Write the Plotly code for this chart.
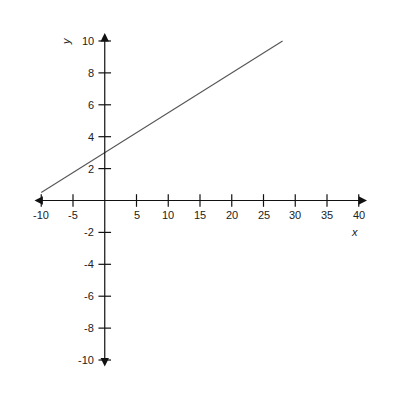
import plotly.graph_objects as go

# line y = 0.25x + 3
line_x = [-10, 28]
line_y = [0.5, 10]

x_ticks = [-10, -5, 5, 10, 15, 20, 25, 30, 35, 40]
y_ticks = [-10, -8, -6, -4, -2, 2, 4, 6, 8, 10]

x_min, x_max = -11.3, 41.3
y_min, y_max = -10.5, 10.5

font = dict(family="Liberation Sans, Arial, sans-serif", size=11, color="#222")

fig = go.Figure()

# the plotted line
fig.add_trace(go.Scatter(
    x=line_x, y=line_y, mode="lines",
    line=dict(color="#555", width=1.1),
    hoverinfo="skip"
))

# tick marks crossing the axes
fig.add_trace(go.Scatter(
    x=x_ticks, y=[0] * len(x_ticks), mode="markers",
    marker=dict(symbol="line-ns", size=9, line=dict(color="#111", width=1.2)),
    hoverinfo="skip"
))
fig.add_trace(go.Scatter(
    x=[0] * len(y_ticks), y=y_ticks, mode="markers",
    marker=dict(symbol="line-ew", size=9, line=dict(color="#111", width=1.2)),
    hoverinfo="skip"
))

# tick labels
for t in x_ticks:
    fig.add_annotation(x=t, y=0, text=str(t), showarrow=False, font=font,
                       xref="x", yref="y", yshift=-14)
for t in y_ticks:
    fig.add_annotation(x=0, y=t, text=str(t), showarrow=False, font=font,
                       xref="x", yref="y", xanchor="right", xshift=-9)

# axes drawn as double-headed arrows
arrow = dict(showarrow=True, arrowhead=2, arrowsize=1.4, arrowwidth=1.2,
             arrowcolor="#111", arrowside="end+start",
             xref="x", yref="y", axref="x", ayref="y", text="")
fig.add_annotation(x=x_max, y=0, ax=x_min, ay=0, **arrow)
fig.add_annotation(x=0, y=y_max, ax=0, ay=y_min, **arrow)

# axis names
fig.add_annotation(x=39.4, y=-1.95, text="<i>x</i>", showarrow=False,
                   xref="x", yref="y", font=font)
fig.add_annotation(x=-6.1, y=10, text="<i>y</i>", showarrow=False,
                   xref="x", yref="y", font=font, textangle=-90)

fig.update_layout(
    width=400, height=400,
    margin=dict(l=25, r=41, t=25, b=40),
    plot_bgcolor="white", paper_bgcolor="white",
    showlegend=False,
    xaxis=dict(range=[x_min, x_max], visible=False),
    yaxis=dict(range=[y_min, y_max], visible=False),
)

fig.write_html("out.html")
